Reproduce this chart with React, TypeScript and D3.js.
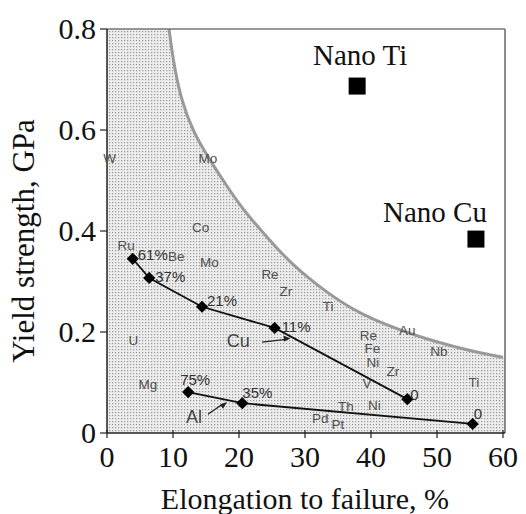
import * as d3 from 'd3'

// boundary of the shaded "conventional metals" region
const boundaryX = [9.4, 10, 11.1, 13, 15.6, 18.2, 20.6, 23.2, 25.8, 28.2, 30.8, 33.3, 36.8, 40.5, 44.4, 48, 52, 56, 60]
const boundaryY = [0.8, 0.74, 0.665, 0.597, 0.54, 0.488, 0.443, 0.403, 0.365, 0.333, 0.304, 0.279, 0.248, 0.224, 0.204, 0.188, 0.173, 0.16, 0.15]

const cuX = [3.9, 6.4, 14.4, 25.4, 45.5]
const cuY = [0.345, 0.307, 0.25, 0.208, 0.067]
const cuLabels = ['61%', '37%', '21%', '11%', '0']

const alX = [12.3, 20.5, 55.4]
const alY = [0.081, 0.059, 0.018]
const alLabels = ['75%', '35%', '0']

const nanoNames = ['Nano Ti', 'Nano Cu']
const nanoX = [37.9, 55.9]
const nanoY = [0.687, 0.384]

const elementNames = ['W', 'Mo', 'Co', 'Ru', 'Be', 'Mo', 'Re', 'Zr', 'Ti', 'U', 'Au', 'Re', 'Fe', 'Nb', 'Ni', 'Zr', 'V', 'Ti', 'Ni', 'Th', 'Pd', 'Pt', 'Mg']
const elementX = [0.4, 15.3, 14.2, 2.9, 10.5, 15.5, 24.7, 27.1, 33.5, 4.0, 45.5, 39.6, 40.2, 50.3, 40.3, 43.3, 39.4, 55.6, 40.5, 36.2, 32.3, 35.0, 6.2]
const elementY = [0.545, 0.545, 0.408, 0.372, 0.35, 0.339, 0.315, 0.281, 0.251, 0.184, 0.204, 0.195, 0.168, 0.162, 0.141, 0.123, 0.099, 0.101, 0.055, 0.053, 0.03, 0.018, 0.097]

const xTicks = [0, 10, 20, 30, 40, 50, 60]
const yTicks = [0, 0.2, 0.4, 0.6, 0.8]

// label offsets (pixels) next to each diamond
const cuDx = [5, 6, 5, 7, 3]
const cuDy = [1, 4, -1, 4, 1]
const alDx = [-8, 0, 1]
const alDy = [-7, -5, -5]

const W = 526
const H = 514

export default function App() {
  const x = d3.scaleLinear().domain([0, 60]).range([107, 503])
  const y = d3.scaleLinear().domain([0, 0.8]).range([433, 29])

  const pts: [number, number][] = boundaryX.map((v, i) => [v, boundaryY[i]])
  const curvePath = d3.line<[number, number]>()
    .x(d => x(d[0]))
    .y(d => y(d[1]))
    .curve(d3.curveBasis)(pts) || ''
  const regionPath = `M${x(0)},${y(0.8)} L${x(boundaryX[0])},${y(0.8)} ` +
    curvePath.replace(/^M/, 'L') + ` L${x(60) + 2},${y(boundaryY[boundaryY.length - 1])} L${x(60) + 2},${y(0)} L${x(0)},${y(0)} Z`

  const cuPath = d3.line<number>().x((_, i) => x(cuX[i])).y((_, i) => y(cuY[i]))(cuX) || ''
  const alPath = d3.line<number>().x((_, i) => x(alX[i])).y((_, i) => y(alY[i]))(alX) || ''

  const diamond = d3.symbol().type(d3.symbolDiamond2).size(95)()

  const serif = '"Liberation Serif", "DejaVu Serif", serif'
  const sans = '"Liberation Sans", Arial, sans-serif'

  return (
    <div style={{ position: 'absolute', left: 0, top: 0 }}>
      <svg width={W} height={H} style={{ display: 'block', background: '#fff' }}>
        <defs>
          <pattern id="dots" width="3" height="3" patternUnits="userSpaceOnUse">
            <rect width="3" height="3" fill="#ececec" />
            <rect x="1" y="1" width="1.2" height="1.2" fill="#9a9a9a" />
          </pattern>
        </defs>

        <path d={regionPath} fill="url(#dots)" />
        <path d={curvePath} fill="none" stroke="#999" strokeWidth={3} />

        {/* frame */}
        <line x1={x(0)} x2={x(60) + 2} y1={y(0.8)} y2={y(0.8)} stroke="#777" strokeWidth={1.5} />
        <line x1={x(60) + 2} x2={x(60) + 2} y1={y(0.8)} y2={y(0)} stroke="#666" strokeWidth={1.5} />
        <line x1={x(0)} x2={x(0)} y1={y(0.8)} y2={y(0)} stroke="#222" strokeWidth={1.5} />
        <line x1={x(0)} x2={x(60) + 2} y1={y(0)} y2={y(0)} stroke="#222" strokeWidth={1.5} />

        {xTicks.map(t => (
          <g key={'x' + t}>
            <line x1={x(t)} x2={x(t)} y1={y(0) - 3} y2={y(0) + 5} stroke="#222" strokeWidth={1.2} />
            <text x={x(t)} y={467} textAnchor="middle" fontFamily={serif} fontSize={30} fill="#111">{t}</text>
          </g>
        ))}
        {yTicks.map(t => (
          <g key={'y' + t}>
            <line x1={x(0) - 7} x2={x(0)} y1={y(t)} y2={y(t)} stroke="#222" strokeWidth={1.2} />
            <text x={96} y={y(t) + 10} textAnchor="end" fontFamily={serif} fontSize={30} fill="#111">{t === 0 ? '0' : t.toFixed(1)}</text>
          </g>
        ))}

        <text x={305} y={509} textAnchor="middle" fontFamily={serif} fontSize={30} fill="#111">Elongation to failure, %</text>
        <text transform={`translate(34,${241}) rotate(-90)`} textAnchor="middle" fontFamily={serif} fontSize={31} fill="#111">Yield strength, GPa</text>

        {/* element labels */}
        {elementNames.map((n, i) => (
          <text key={'e' + i} x={x(elementX[i])} y={y(elementY[i]) + 5} textAnchor="middle" fontFamily={sans} fontSize={13.5} fill="#505050">{n}</text>
        ))}

        {/* Cu and Al curves */}
        <path d={cuPath} fill="none" stroke="#111" strokeWidth={1.8} />
        <path d={alPath} fill="none" stroke="#111" strokeWidth={1.8} />
        {cuX.map((v, i) => (
          <path key={'cu' + i} d={diamond} transform={`translate(${x(v)},${y(cuY[i])})`} fill="#000" />
        ))}
        {alX.map((v, i) => (
          <path key={'al' + i} d={diamond} transform={`translate(${x(v)},${y(alY[i])})`} fill="#000" />
        ))}
        {cuLabels.map((l, i) => (
          <text key={'cl' + i} x={x(cuX[i]) + cuDx[i]} y={y(cuY[i]) + cuDy[i]} fontFamily={sans} fontSize={15} fill="#333">{l}</text>
        ))}
        {alLabels.map((l, i) => (
          <text key={'al' + i} x={x(alX[i]) + alDx[i]} y={y(alY[i]) + alDy[i]} fontFamily={sans} fontSize={15} fill="#333">{l}</text>
        ))}

        {/* series name callouts */}
        <text x={x(19.9)} y={y(0.17)} textAnchor="middle" fontFamily={sans} fontSize={18} fill="#444">Cu</text>
        <line x1={x(23.5)} x2={x(27.4)} y1={y(0.18)} y2={y(0.186)} stroke="#222" strokeWidth={1.3} />
        <path d={`M${x(27.8)},${y(0.187)} l-7,-3 l0.5,6 Z`} fill="#222" />
        <text x={x(13.2)} y={y(0.02)} textAnchor="middle" fontFamily={sans} fontSize={18} fill="#444">Al</text>
        <line x1={x(15.3)} x2={x(17.6)} y1={y(0.037)} y2={y(0.058)} stroke="#222" strokeWidth={1.3} />
        <path d={`M${x(18.2)},${y(0.062)} l-7,3 l3,4 Z`} fill="#222" />

        {/* nano materials */}
        {nanoNames.map((n, i) => (
          <g key={n}>
            <rect x={x(nanoX[i]) - 8.5} y={y(nanoY[i]) - 8.5} width={17} height={17} fill="#000" />
            <text x={i === 0 ? 313 : 383} y={i === 0 ? 65 : 222} fontFamily={serif} fontSize={29} fill="#111">{n}</text>
          </g>
        ))}
      </svg>
    </div>
  )
}
